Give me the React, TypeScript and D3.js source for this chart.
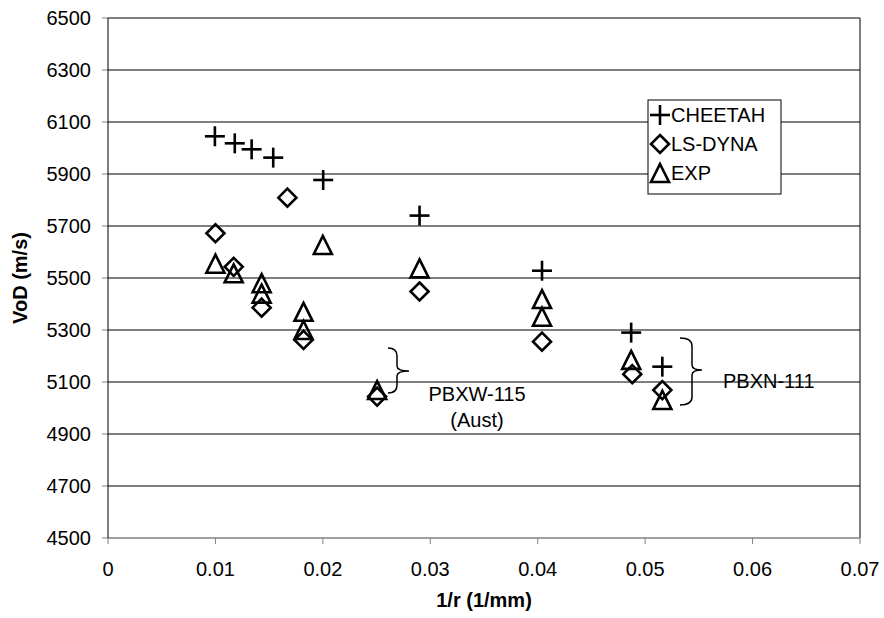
import React from "react";
import * as d3 from "d3";

const xTicks = [0, 0.01, 0.02, 0.03, 0.04, 0.05, 0.06, 0.07];
const yTicks = [4500, 4700, 4900, 5100, 5300, 5500, 5700, 5900, 6100, 6300, 6500];

const cheetahX = [0.00995, 0.0118, 0.01337, 0.01538, 0.02003, 0.029, 0.0404, 0.0487, 0.0516];
const cheetahY = [6045, 6018, 5995, 5963, 5877, 5740, 5528, 5290, 5159];

const lsdynaX = [0.01, 0.0117, 0.0143, 0.0167, 0.0182, 0.02505, 0.029, 0.0404, 0.0488, 0.0516];
const lsdynaY = [5672, 5543, 5386, 5809, 5262, 5044, 5448, 5255, 5130, 5069];

const expX = [0.01, 0.0117, 0.0143, 0.0143, 0.0182, 0.0182, 0.02, 0.02505, 0.029, 0.0404, 0.0404, 0.0487, 0.0516];
const expY = [5555, 5518, 5480, 5440, 5370, 5300, 5627, 5069, 5537, 5419, 5351, 5185, 5031];

const legendLabels = ["CHEETAH", "LS-DYNA", "EXP"];

const W = 884, H = 618;
const left = 108, right = 860, top = 18, bottom = 538;
const FONT = "Liberation Sans, Arial, sans-serif";

function Plus({ x, y }: { x: number; y: number }) {
  const r = 10;
  return (
    <g stroke="#000" strokeWidth={2.6}>
      <line x1={x - r} x2={x + r} y1={y} y2={y} />
      <line x1={x} x2={x} y1={y - r} y2={y + r} />
    </g>
  );
}
function Diamond({ x, y }: { x: number; y: number }) {
  const r = 9;
  return (
    <path d={`M${x},${y - r}L${x + r},${y}L${x},${y + r}L${x - r},${y}Z`} fill="none" stroke="#000" strokeWidth={2.6} />
  );
}
function Tri({ x, y }: { x: number; y: number }) {
  const h = 9;
  return (
    <path d={`M${x},${y - h}L${x + h},${y + h}L${x - h},${y + h}Z`} fill="none" stroke="#000" strokeWidth={2.6} strokeLinejoin="miter" />
  );
}

export default function App() {
  const xs = d3.scaleLinear().domain([0, 0.07]).range([left, right]);
  const ys = d3.scaleLinear().domain([4500, 6500]).range([bottom, top]);
  const markers = [Plus, Diamond, Tri];

  const brace = (xa: number, xb: number, xt: number, y0: number, ym: number, y1: number) =>
    `M${xa},${y0} Q${xb},${y0} ${xb},${y0 + 8} L${xb},${ym - 5} Q${xb},${ym} ${xt},${ym} Q${xb},${ym} ${xb},${ym + 5} L${xb},${y1 - 8} Q${xb},${y1} ${xa},${y1}`;

  return (
    <svg width={W} height={H} style={{ display: "block", position: "absolute", left: 0, top: 0 }} fontFamily={FONT}>
      <rect width={W} height={H} fill="#fff" />
      {yTicks.map((t) => (
        <g key={t}>
          {t !== 4500 && <line x1={left} x2={right} y1={ys(t)} y2={ys(t)} stroke="#000" strokeWidth={1} />}
          <line x1={left - 6} x2={left} y1={ys(t)} y2={ys(t)} stroke="#808080" strokeWidth={1} />
          <text x={91} y={ys(t)} dy="0.35em" textAnchor="end" fontSize={20}>{t}</text>
        </g>
      ))}
      <line x1={right} x2={right} y1={top} y2={bottom} stroke="#000" strokeWidth={1} />
      <line x1={left} x2={right} y1={bottom} y2={bottom} stroke="#808080" strokeWidth={1.5} />
      <line x1={left} x2={left} y1={top} y2={bottom} stroke="#000" strokeWidth={1} />
      {xTicks.map((t) => (
        <g key={t}>
          <line x1={xs(t)} x2={xs(t)} y1={bottom} y2={bottom + 6} stroke="#808080" strokeWidth={1} />
          <text x={xs(t)} y={576} textAnchor="middle" fontSize={20}>{t}</text>
        </g>
      ))}
      <text x={484} y={607} textAnchor="middle" fontSize={20} fontWeight="bold">1/r (1/mm)</text>
      <text transform={`translate(27,${(top + bottom) / 2}) rotate(-90)`} textAnchor="middle" fontSize={20} fontWeight="bold">VoD (m/s)</text>

      {cheetahX.map((v, i) => <Plus key={"c" + i} x={xs(v)} y={ys(cheetahY[i])} />)}
      {lsdynaX.map((v, i) => <Diamond key={"l" + i} x={xs(v)} y={ys(lsdynaY[i])} />)}
      {expX.map((v, i) => <Tri key={"e" + i} x={xs(v)} y={ys(expY[i])} />)}

      <path d={brace(388, 397, 409, 348, 371, 393)} fill="none" stroke="#000" strokeWidth={1.5} />
      <text x={477} y={401} textAnchor="middle" fontSize={20}>PBXW-115</text>
      <text x={477} y={427} textAnchor="middle" fontSize={20}>(Aust)</text>
      <path d={brace(680, 692, 702, 338, 370, 405)} fill="none" stroke="#000" strokeWidth={1.5} />
      <text x={723} y={388} fontSize={20}>PBXN-111</text>

      <rect x={648} y={100} width={133} height={94} fill="#fff" stroke="#000" strokeWidth={1} />
      {legendLabels.map((l, i) => {
        const M = markers[i];
        const cy = 115 + i * 29;
        return (
          <g key={l}>
            <M x={660} y={cy} />
            <text x={671} y={cy} dy="0.35em" fontSize={20}>{l}</text>
          </g>
        );
      })}
    </svg>
  );
}
